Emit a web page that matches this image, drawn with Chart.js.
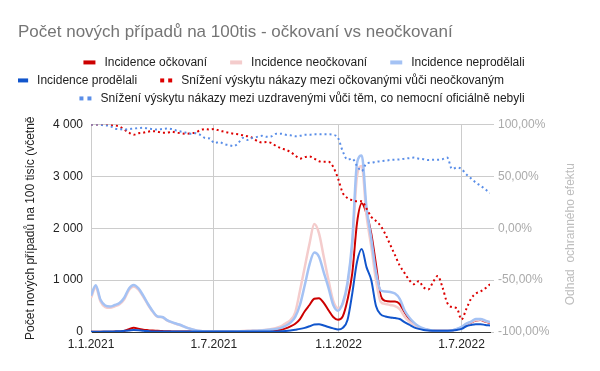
<!DOCTYPE html>
<html>
<head>
<meta charset="utf-8">
<script src="https://cdn.jsdelivr.net/npm/chart.js@4.4.1/dist/chart.umd.min.js"></script>
<style>
  html, body { margin: 0; padding: 0; background: #fff; }
</style>
</head>
<body>
<canvas id="chart" width="600" height="371"></canvas>
<script>
// days since 1.1.2021, weekly
const days = [0, 7, 14, 21, 28, 35, 42, 49, 56, 63, 70, 77, 84, 91, 98, 105, 112, 119, 126, 133,
  140, 147, 154, 161, 168, 175, 182, 189, 196, 203, 210, 217, 224, 231, 238, 245, 252, 259, 266, 273,
  280, 287, 294, 301, 308, 315, 322, 329, 336, 343, 350, 357, 364, 371, 378, 385, 392, 399, 406, 413,
  420, 427, 434, 441, 448, 455, 462, 469, 476, 483, 490, 497, 504, 511, 518, 525, 532, 539, 546, 553,
  560, 567, 574, 581, 588];

const tickDays = [0, 181, 365, 546];
const tickLabels = ['1.1.2021', '1.7.2021', '1.1.2022', '1.7.2022'];

const ockovani = [5, 5, 5, 5, 6, 8, 10, 20, 55, 80, 65, 45, 35, 28, 22, 18, 14, 12, 10, 8,
  8, 8, 8, 8, 8, 8, 8, 8, 8, 8, 8, 8, 8, 8, 8, 10, 12, 15, 20, 30,
  45, 70, 110, 160, 250, 400, 520, 640, 650, 560, 420, 290, 235, 300, 620, 1130, 2100, 2480, 2280, 1900,
  1300, 700, 600, 590, 590, 540, 380, 250, 165, 100, 60, 40, 28, 25, 25, 25, 30, 50, 85, 140,
  180, 220, 230, 200, 170];

const neockovani = [660, 860, 590, 480, 465, 495, 535, 630, 810, 875, 815, 680, 525, 390, 295, 285, 225, 185, 155, 125,
  88, 58, 35, 20, 12, 10, 10, 10, 10, 10, 12, 15, 18, 22, 28, 30, 35, 45, 60, 80,
  110, 170, 230, 380, 800, 1250, 1700, 2080, 1900, 1450, 1000, 600, 460, 540, 900, 1650, 3000, 3200, 2250, 1650,
  1000, 580, 540, 520, 500, 440, 300, 200, 140, 90, 60, 40, 28, 25, 25, 25, 30, 55, 90, 150,
  190, 230, 240, 210, 180];

const neprodelali = [700, 900, 620, 510, 490, 520, 560, 660, 840, 905, 840, 700, 540, 400, 300, 290, 230, 190, 160, 130,
  90, 60, 35, 20, 12, 10, 8, 8, 8, 8, 10, 12, 15, 18, 22, 26, 30, 38, 48, 60,
  80, 120, 180, 290, 525, 900, 1300, 1530, 1450, 1150, 850, 520, 410, 560, 950, 1750, 3250, 3400, 2400, 1800,
  1150, 800, 780, 770, 740, 640, 420, 280, 180, 110, 70, 45, 30, 25, 25, 25, 30, 60, 100, 160,
  200, 250, 250, 220, 190];

const prodelali = [5, 5, 6, 8, 10, 12, 15, 22, 30, 40, 35, 25, 18, 12, 10, 8, 8, 8, 8, 8,
  8, 8, 8, 8, 8, 8, 8, 8, 8, 8, 8, 8, 8, 8, 8, 8, 8, 8, 10, 12,
  15, 20, 30, 45, 60, 80, 110, 145, 150, 125, 95, 70, 50, 80, 230, 740, 1350, 1600, 1250, 1000,
  500, 340, 300, 280, 270, 250, 190, 140, 90, 60, 40, 30, 25, 22, 22, 25, 30, 40, 60, 110,
  135, 150, 150, 135, 125];

const snizeniOckovani = [100, 100, 100, 100, 99.5, 99, 98, 95, 92, 90, 91.5, 92, 93, 93.5, 93, 92, 92, 93, 92, 91.5,
  91, 91.5, 92, 94.5, 95.5, 95, 95.5, 94, 93, 92, 91, 90.5, 89.5, 88.5, 87, 84, 82.5, 83, 82, 79,
  77, 75.5, 73.5, 70, 67, 68.5, 69, 67, 64.5, 64, 64, 59, 48, 34, 29, 27, 26, 26, 19, 11,
  7, 2, -6, -16, -26, -36, -43, -50, -54, -51, -57, -59, -52, -46, -57, -72, -76, -77, -88, -78,
  -68, -63, -61, -58, -54];

const snizeniUzdraveni = [100, 100, 99.5, 99, 98.5, 96, 95.5, 95, 95.5, 96, 96.5, 96.8, 96, 95.5, 95, 95.5, 96, 95.5, 94, 93,
  92, 91, 91.5, 90, 87, 86.5, 82, 83, 81, 80, 79, 82, 87, 85, 87, 88, 89, 88, 88.5, 91,
  91, 90, 89.5, 88.5, 89, 90, 90, 90.5, 90.4, 90.5, 90.5, 90, 87, 74, 66, 67, 60, 55, 62.5, 63,
  64, 64.5, 65, 65.7, 66, 66.3, 67, 67.5, 68, 67, 66.5, 65.7, 66, 66, 66.5, 68, 57, 58.4, 57, 52,
  48, 44, 41, 37.5, 34];

const FONT = '"Liberation Sans", Arial, sans-serif';
Chart.defaults.font.family = FONT;

function pts(arr) {
  return days.map((d, i) => ({ x: d, y: arr[i] }));
}

// legend swatches: solid bar or two dots, drawn near the right of the box
function swatch(color, dotted) {
  const c = document.createElement('canvas');
  c.width = 32; c.height = 6;
  const g = c.getContext('2d');
  g.fillStyle = color;
  if (dotted) {
    g.fillRect(17, 1, 4, 4);
    g.fillRect(25, 1, 4, 4);
  } else {
    g.fillRect(17, 1, 12, 4);
  }
  return c;
}

// right axis title reads bottom-to-top like the left one
const rightTitle = {
  id: 'rightTitle',
  afterDraw(chart) {
    const { ctx, chartArea } = chart;
    ctx.save();
    ctx.translate(571, (chartArea.top + chartArea.bottom) / 2 + 6);
    ctx.rotate(-Math.PI / 2);
    ctx.font = '12px ' + FONT;
    ctx.fillStyle = '#bdbdbd';
    ctx.textAlign = 'center';
    ctx.textBaseline = 'middle';
    ctx.fillText('Odhad  ochranného efektu', 0, 0);
    ctx.restore();
  }
};

// legend rows are not quite centred in the original
const legendShift = {
  id: 'legendShift',
  afterLayout(chart) {
    const lw = chart.legend && chart.legend.lineWidths;
    if (lw && lw.length > 2) {
      lw[0] += 12;
      lw[1] += 100;
      lw[2] += 16;
    }
  }
};

const datasets = [
  { label: 'Incidence očkovaní', data: pts(ockovani), yAxisID: 'y', borderColor: '#cc0000', borderWidth: 2, order: 6 },
  { label: 'Incidence neočkovaní', data: pts(neockovani), yAxisID: 'y', borderColor: '#f4cccc', borderWidth: 2.5, order: 5 },
  { label: 'Incidence neprodělali', data: pts(neprodelali), yAxisID: 'y', borderColor: '#a4c2f4', borderWidth: 2.5, order: 4 },
  { label: 'Incidence prodělali', data: pts(prodelali), yAxisID: 'y', borderColor: '#1155cc', borderWidth: 2, order: 3 },
  { label: 'Snížení výskytu nákazy mezi očkovanými vůči neočkovaným', data: pts(snizeniOckovani), yAxisID: 'y1', borderColor: '#dd0000', borderWidth: 2, borderDash: [2, 3], order: 2 },
  { label: 'Snížení výskytu nákazy mezi uzdravenými vůči těm, co nemocní oficiálně nebyli', data: pts(snizeniUzdraveni), yAxisID: 'y1', borderColor: '#5a8ee8', borderWidth: 2, borderDash: [2, 3], order: 1 }
];

const swatches = datasets.map(d => swatch(d.borderColor, !!d.borderDash));

new Chart(document.getElementById('chart'), {
  type: 'line',
  data: { datasets },
  options: {
    responsive: false,
    animation: false,
    elements: { point: { radius: 0 }, line: { cubicInterpolationMode: 'monotone' } },
    layout: { padding: { left: 18, right: 15, top: 0, bottom: 0 } },
    plugins: {
      title: {
        display: true,
        text: 'Počet nových případů na 100tis - očkovaní vs neočkovaní',
        align: 'start',
        color: '#757575',
        font: { size: 17, weight: 'normal' },
        padding: { top: 22, bottom: 8 }
      },
      legend: {
        position: 'top',
        labels: {
          usePointStyle: true,
          pointStyleWidth: 32,
          padding: 6,
          color: '#222',
          font: { size: 12 },
          generateLabels(chart) {
            const items = Chart.defaults.plugins.legend.labels.generateLabels(chart);
            items.forEach(it => { it.pointStyle = swatches[it.datasetIndex]; });
            return items;
          },
          sort: (a, b) => a.datasetIndex - b.datasetIndex
        }
      },
      tooltip: { enabled: false }
    },
    scales: {
      x: {
        type: 'linear',
        min: 0,
        max: 588,
        afterBuildTicks(scale) { scale.ticks = tickDays.map(v => ({ value: v })); },
        afterFit(scale) { scale.height = 39; },
        ticks: {
          color: '#222',
          padding: 5,
          autoSkip: false,
          maxRotation: 0,
          font: { size: 12 },
          callback: v => tickLabels[tickDays.indexOf(v)]
        },
        grid: { color: '#cccccc', drawTicks: false },
        border: { color: '#333333' }
      },
      // empty top axis, only keeps a gap under the legend
      gap: {
        type: 'linear',
        position: 'top',
        afterFit(scale) { scale.height = 10; },
        ticks: { display: false },
        grid: { display: false },
        border: { display: false }
      },
      y: {
        position: 'left',
        min: 0,
        max: 4000,
        afterFit(scale) { scale.width = 73; },
        ticks: {
          stepSize: 1000,
          color: '#222',
          padding: 8,
          font: { size: 12 },
          callback: v => String(v).replace(/\B(?=(\d{3})+(?!\d))/g, ' ')
        },
        grid: { color: '#cccccc', drawTicks: false },
        border: { color: '#cccccc' },
        title: {
          display: true,
          text: 'Počet nových případů na 100 tisíc (včetně',
          color: '#222',
          font: { size: 12 },
          padding: { top: 5, bottom: 0 }
        }
      },
      y1: {
        position: 'right',
        min: -100,
        max: 100,
        afterFit(scale) { scale.width = 95; },
        ticks: {
          stepSize: 50,
          color: '#aaaaaa',
          padding: 4,
          font: { size: 12 },
          callback: v => v.toFixed(2).replace('.', ',') + '%'
        },
        grid: { drawOnChartArea: false, tickLength: 4, tickColor: '#cccccc' },
        border: { display: false }
      }
    }
  },
  plugins: [rightTitle, legendShift]
});
</script>
</body>
</html>
